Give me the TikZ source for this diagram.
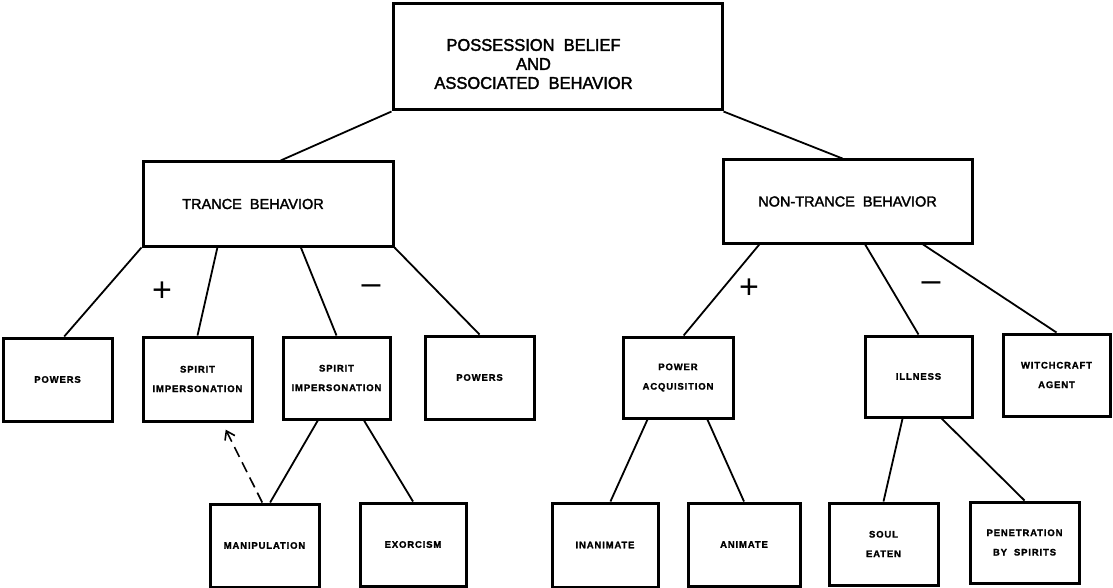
\documentclass[tikz,border=0pt]{standalone}
\usepackage{fontspec}
\setmainfont{Liberation Sans}
\usetikzlibrary{calc,arrows.meta}

\tikzset{
	box/.style={draw, rectangle, line width=3pt, inner sep=0pt, align=center},
	link/.style={line width=1.8pt},
	dashlink/.style={line width=1.6pt, dash pattern=on 11pt off 6pt, -{Straight Barb[length=8pt, width=11pt]}},
	bigtext/.style={align=center, font=\fontsize{17}{19}\selectfont\addfontfeature{FakeBold=2,FakeStretch=0.97}},
	midtext/.style={font=\fontsize{14.5}{17}\selectfont\addfontfeature{FakeBold=2}},
	smalltext/.style={font=\bfseries\fontsize{9.5}{19.5}\selectfont\addfontfeature{LetterSpace=9,FakeBold=1.5}},
	sign/.style={font=\fontsize{34}{34}\selectfont, inner sep=0pt},
}

\begin{document}
\begin{tikzpicture}[x=1pt, y=-1pt]
		\useasboundingbox (0,0) rectangle (1113,588);

		% top
		\node[box, minimum width=329, minimum height=106, label={[bigtext, xshift=-24pt, yshift=-7pt]center:{POSSESSION\ \ BELIEF\\AND\\ASSOCIATED\ \ BEHAVIOR}}] (poss) at (557.5,57) {};

		% trance / non-trance
		\node[box, minimum width=250, minimum height=84, label={[midtext, xshift=-15pt]center:TRANCE\ \ BEHAVIOR}] (trance) at (268,204) {};
		\node[box, midtext, minimum width=249, minimum height=83] (nontrance) at (847.5,201.5) {NON-TRANCE\ \ BEHAVIOR};

		% middle row
		\node[box, smalltext, minimum width=109, minimum height=83] (powa) at (57.5,379.5) {POWERS};
		\node[box, smalltext, minimum width=109, minimum height=84] (spira) at (197.5,379) {SPIRIT\\IMPERSONATION};
		\node[box, smalltext, minimum width=107, minimum height=82] (spirb) at (336.5,378) {SPIRIT\\IMPERSONATION};
		\node[box, smalltext, minimum width=109, minimum height=83] (powb) at (479.5,377.5) {POWERS};
		\node[box, smalltext, minimum width=110, minimum height=81] (acq) at (678,377.5) {POWER\\ACQUISITION};
		\node[box, smalltext, minimum width=107, minimum height=81] (ill) at (918.5,376.5) {ILLNESS};
		\node[box, smalltext, minimum width=107, minimum height=82] (witch) at (1056.5,375) {WITCHCRAFT\\AGENT};

		% bottom row
		\node[box, smalltext, minimum width=109, minimum height=83] (manip) at (264.5,545.5) {MANIPULATION};
		\node[box, smalltext, minimum width=106, minimum height=83] (exorc) at (413,544.5) {EXORCISM};
		\node[box, smalltext, minimum width=106, minimum height=84] (inan) at (605,545) {INANIMATE};
		\node[box, smalltext, minimum width=112, minimum height=83] (anim) at (744,544.5) {ANIMATE};
		\node[box, smalltext, minimum width=109, minimum height=82] (soul) at (883.5,544) {SOUL\\EATEN};
		\node[box, smalltext, minimum width=109, minimum height=81] (pene) at (1024.5,542.5) {PENETRATION\\BY\ \ SPIRITS};

		% signs
		\node[sign] (plusa) at (162,292) {+};
		\node[sign] (minusa) at (371,290) {--};
		\node[sign] (plusb) at (749,289) {+};
		\node[sign] (minusb) at (931,287) {--};

		% links
		\draw[link] (poss.south west) -- ($(trance.north west)!.55!(trance.north east)$);
		\draw[link] (poss.south east) -- ($(nontrance.north west)!.48!(nontrance.north east)$);

		\draw[link] (trance.south west) -- ($(powa.north west)!.56!(powa.north east)$);
		\draw[link] ($(trance.south west)!.3!(trance.south east)$) -- (spira.north);
		\draw[link] ($(trance.south west)!.63!(trance.south east)$) -- (spirb.north);
		\draw[link] (trance.south east) -- (powb.north);

		\draw[link] ($(nontrance.south west)!.15!(nontrance.south east)$) -- ($(acq.north west)!.55!(acq.north east)$);
		\draw[link] ($(nontrance.south west)!.57!(nontrance.south east)$) -- (ill.north);
		\draw[link] ($(nontrance.south west)!.8!(nontrance.south east)$) -- (witch.north);

		\draw[link] ($(spirb.south west)!.33!(spirb.south east)$) -- ($(manip.north west)!.55!(manip.north east)$);
		\draw[link] ($(spirb.south west)!.75!(spirb.south east)$) -- (exorc.north);

		\draw[link] ($(acq.south west)!.23!(acq.south east)$) -- ($(inan.north west)!.55!(inan.north east)$);
		\draw[link] ($(acq.south west)!.76!(acq.south east)$) -- (anim.north);

		\draw[link] ($(ill.south west)!.355!(ill.south east)$) -- (soul.north);
		\draw[link] ($(ill.south west)!.71!(ill.south east)$) -- (pene.north);

		\draw[dashlink, shorten >=8pt] ($(manip.north west)!.48!(manip.north east)$) -- ($(spira.south west)!.72!(spira.south east)$);

\end{tikzpicture}
\end{document}
